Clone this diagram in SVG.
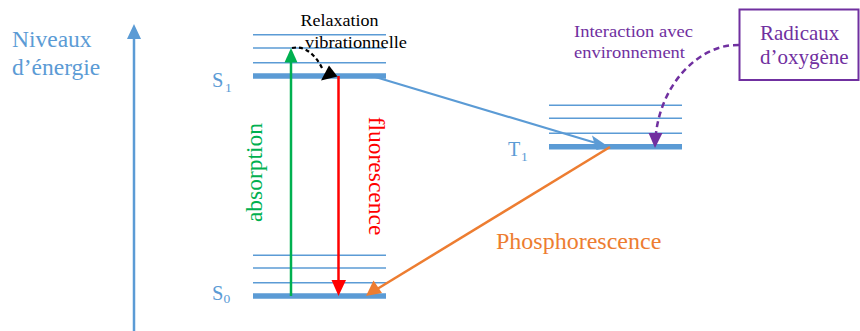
<svg xmlns="http://www.w3.org/2000/svg" width="860" height="331" viewBox="0 0 860 331">
<style>
.t{font-family:'Liberation Serif','Times New Roman','DejaVu Serif',serif}
.thin{stroke:#5B9BD5;stroke-width:1.5}
.thick{stroke:#5B9BD5;stroke-width:5.5}
.blue{fill:#5B9BD5}
</style>
<rect width="860" height="331" fill="#fff"/>
<g id="axis">
<line x1="134" y1="331" x2="134" y2="36" stroke="#5B9BD5" stroke-width="2.5"/>
<polygon points="134,24 127,39 141,39" fill="#5B9BD5"/>
<text class="t blue" font-family="Liberation Serif, serif" x="12" y="47" font-size="23.5">Niveaux</text>
<text class="t blue" font-family="Liberation Serif, serif" x="12" y="75" font-size="23.5">d’énergie</text>
</g>
<g id="S1">
<line x1="253" y1="34.7" x2="386" y2="34.7" class="thin"/>
<line x1="253" y1="48" x2="386" y2="48" class="thin"/>
<line x1="253" y1="62.7" x2="386" y2="62.7" class="thin"/>
<line x1="253" y1="76" x2="386" y2="76" class="thick"/>
<text class="t blue" font-family="Liberation Serif, serif" x="212" y="86.5" font-size="20.5">S</text>
<text class="t blue" font-family="Liberation Serif, serif" x="225" y="91.5" font-size="13.5">1</text>
</g>
<g id="S0">
<line x1="253" y1="255.3" x2="386" y2="255.3" class="thin"/>
<line x1="253" y1="268" x2="386" y2="268" class="thin"/>
<line x1="253" y1="282.7" x2="386" y2="282.7" class="thin"/>
<line x1="253" y1="296" x2="386" y2="296" class="thick"/>
<text class="t blue" font-family="Liberation Serif, serif" x="212" y="300" font-size="20.5">S</text>
<text class="t blue" font-family="Liberation Serif, serif" x="223.5" y="302.5" font-size="13.5">0</text>
</g>
<g id="T1">
<line x1="549" y1="105.3" x2="682" y2="105.3" class="thin"/>
<line x1="549" y1="118.3" x2="682" y2="118.3" class="thin"/>
<line x1="549" y1="133.3" x2="682" y2="133.3" class="thin"/>
<line x1="549" y1="146.7" x2="682" y2="146.7" class="thick"/>
<text class="t blue" font-family="Liberation Serif, serif" x="508" y="155.7" font-size="20">T</text>
<text class="t blue" font-family="Liberation Serif, serif" x="521" y="161" font-size="13.5">1</text>
</g>
<g id="radicaux">
<rect x="739.5" y="9.5" width="119" height="70.5" fill="none" stroke="#7030A0" stroke-width="2"/>
<text class="t" font-family="Liberation Serif, serif" x="760" y="40" font-size="21" fill="#7030A0">Radicaux</text>
<text class="t" font-family="Liberation Serif, serif" x="760" y="64" font-size="21" fill="#7030A0">d’oxygène</text>
</g>
<g id="connectors">
<line x1="291" y1="296" x2="291" y2="60" stroke="#00B050" stroke-width="2.5"/>
<polygon points="291,48 284.5,62.5 297.5,62.5" fill="#00B050"/>
<line x1="338.5" y1="76" x2="338.5" y2="282" stroke="#FF0000" stroke-width="2.5"/>
<polygon points="338.5,296 331.5,280 346,280" fill="#FF0000"/>
<path d="M292,48 C305,45 316,55 323,70" fill="none" stroke="#000" stroke-width="2.2" stroke-dasharray="4,3"/>
<polygon points="337.5,76.5 321,80.5 329,65.5" fill="#000"/>
<line x1="372" y1="76" x2="596" y2="143" stroke="#5B9BD5" stroke-width="2.2"/>
<polygon points="609,147 592,135.5 596.5,150" fill="#5B9BD5"/>
<line x1="610" y1="147" x2="378" y2="288.5" stroke="#ED7D31" stroke-width="2.5"/>
<polygon points="366,296 373.5,280.5 382,293" fill="#ED7D31"/>
<path d="M739,45 L730,45.3 C695,50 662,85 656,133" fill="none" stroke="#7030A0" stroke-width="2.5" stroke-dasharray="6,4"/>
<polygon points="655,148 648.5,133 662.5,133" fill="#7030A0"/>
</g>
<g id="labels">
<text class="t" font-family="Liberation Serif, serif" x="300.5" y="26" font-size="17" fill="#000" textLength="78" lengthAdjust="spacingAndGlyphs">Relaxation</text>
<text class="t" font-family="Liberation Serif, serif" x="305" y="47.5" font-size="17" fill="#000" textLength="102" lengthAdjust="spacingAndGlyphs">vibrationnelle</text>
<text class="t" font-family="Liberation Serif, serif" x="574" y="37" font-size="16.5" fill="#7030A0" textLength="119" lengthAdjust="spacingAndGlyphs">Interaction avec</text>
<text class="t" font-family="Liberation Serif, serif" x="574" y="58" font-size="16.5" fill="#7030A0" textLength="111" lengthAdjust="spacingAndGlyphs">environnement</text>
<text class="t" font-family="Liberation Serif, serif" transform="translate(261.5,172.5) rotate(-90)" text-anchor="middle" font-size="23.5" fill="#00B050">absorption</text>
<text class="t" font-family="Liberation Serif, serif" transform="translate(368.5,176) rotate(90)" text-anchor="middle" font-size="23.5" fill="#FF0000">fluorescence</text>
<text class="t" font-family="Liberation Serif, serif" x="496" y="249" font-size="24" fill="#ED7D31">Phosphorescence</text>
</g>
</svg>
